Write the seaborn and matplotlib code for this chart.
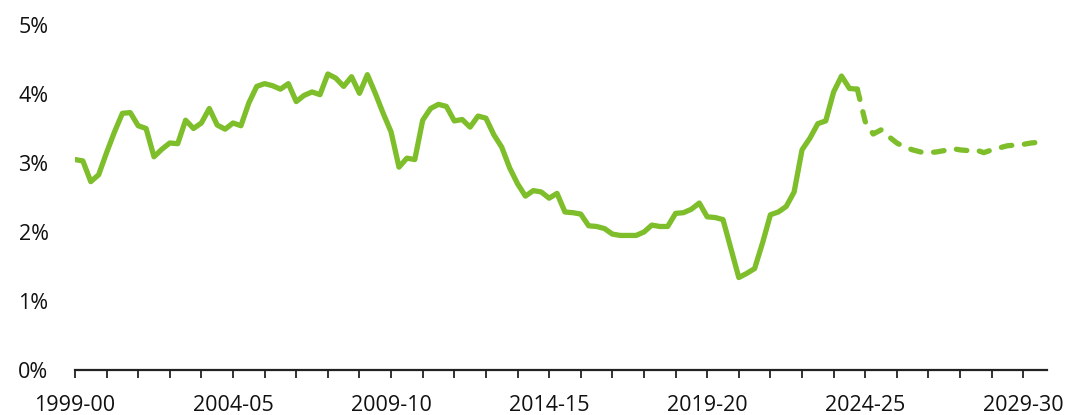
import numpy as np
import pandas as pd
import seaborn as sns
import matplotlib.pyplot as plt

# --- data (quarterly) ---
actual_values = [
    3.05, 3.03, 2.73, 2.83, 3.15, 3.45, 3.72, 3.73, 3.54, 3.50,
    3.09, 3.20, 3.29, 3.28, 3.62, 3.50, 3.58, 3.79, 3.55, 3.49,
    3.58, 3.54, 3.87, 4.11, 4.15, 4.12, 4.07, 4.15, 3.89, 3.98,
    4.03, 3.99, 4.29, 4.23, 4.11, 4.25, 4.01, 4.28, 4.01, 3.72,
    3.45, 2.94, 3.07, 3.05, 3.62, 3.79, 3.85, 3.82, 3.61, 3.63,
    3.52, 3.68, 3.65, 3.41, 3.23, 2.93, 2.70, 2.52, 2.60, 2.58,
    2.49, 2.56, 2.29, 2.28, 2.26, 2.09, 2.08, 2.05, 1.97, 1.95,
    1.95, 1.95, 2.00, 2.10, 2.08, 2.08, 2.27, 2.28, 2.33, 2.42,
    2.22, 2.21, 2.18, 1.76, 1.34, 1.40, 1.47, 1.84, 2.25, 2.29,
    2.37, 2.58, 3.19, 3.36, 3.57, 3.61, 4.03, 4.26, 4.08, 4.07,
]
forecast_values = [
    3.60, 3.42, 3.48, 3.38, 3.29, 3.23, 3.19, 3.16, 3.15, 3.16,
    3.18, 3.21, 3.19, 3.18, 3.19, 3.15, 3.19, 3.22, 3.25, 3.26,
    3.27, 3.29, 3.30, 3.31,
]
year_labels = ["1999-00", "2004-05", "2009-10", "2014-15",
               "2019-20", "2024-25", "2029-30"]
y_labels = ["0%", "1%", "2%", "3%", "4%", "5%"]

n_act = len(actual_values)
actual = pd.DataFrame({"t": np.arange(n_act) / 4, "value": actual_values})
# forecast joins on to the last actual quarter
fc_vals = [actual_values[-1]] + forecast_values
forecast = pd.DataFrame({"t": np.arange(n_act - 1, n_act - 1 + len(fc_vals)) / 4,
                         "value": fc_vals})

green = "#7DBE2A"

sns.set_theme(style="white")
plt.rcParams["font.family"] = ["Open Sans", "DejaVu Sans"]

fig, ax = plt.subplots(figsize=(10.71, 4.15), dpi=100)
fig.subplots_adjust(left=0.070, right=0.9776, bottom=0.1084, top=0.9398)

sns.lineplot(data=actual, x="t", y="value", color=green, linewidth=3.8,
             ax=ax, solid_joinstyle="round", solid_capstyle="round")
sns.lineplot(data=forecast, x="t", y="value", color=green, linewidth=3.8,
             ax=ax, dashes=False)
ax.lines[-1].set_dashes([2.0, 2.4])
ax.lines[-1].set_dash_capstyle("round")

ax.set_xlim(0, 30.75)
ax.set_ylim(0, 5)
ax.set_xticks(np.arange(0, 31))
ax.set_xticklabels([year_labels[i // 5] if i % 5 == 0 else "" for i in range(31)])
ax.set_yticks(range(6))
ax.set_yticklabels(y_labels)

for s in ["top", "right", "left"]:
    ax.spines[s].set_visible(False)
ax.spines["bottom"].set_linewidth(1.6)
ax.spines["bottom"].set_color("#222222")
ax.tick_params(axis="x", direction="out", length=6, width=1.3, color="#222222",
               pad=12, labelsize=15.5, labelcolor="#111111", bottom=True)
ax.tick_params(axis="y", length=0, pad=19, labelsize=15.5, labelcolor="#111111")
ax.set_xlabel("")
ax.set_ylabel("")
ax.grid(False)

plt.savefig("out.png", dpi=100)
